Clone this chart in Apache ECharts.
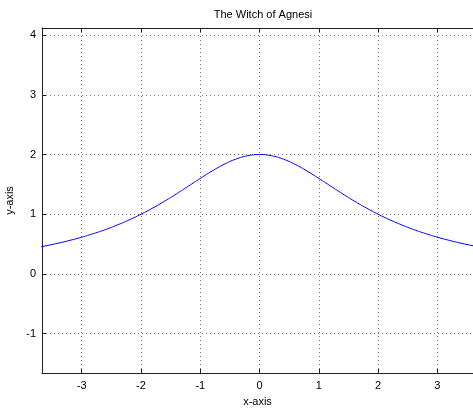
<!DOCTYPE html>
<html><head><meta charset="utf-8">
<script src="https://cdn.jsdelivr.net/npm/echarts@6/dist/echarts.min.js"></script>
<style>html,body{margin:0;padding:0;background:#fff}#c{width:473px;height:408px}</style>
</head><body><div id="c"></div>
<script>
var titleText = "The Witch of Agnesi";
var xName = "x-axis";
var yName = "y-axis";
var xTicks = [-3,-2,-1,0,1,2,3];
var yTicks = [-1,0,1,2,3,4];
var xs = [-3.8,-3.6,-3.4,-3.2,-3.0,-2.8,-2.6,-2.4,-2.2,-2.0,-1.8,-1.6,-1.4,-1.2,-1.0,-0.8,-0.6,-0.4,-0.2,0,0.2,0.4,0.6,0.8,1.0,1.2,1.4,1.6,1.8,2.0,2.2,2.4,2.6,2.8,3.0,3.2,3.4,3.6,3.8];
var ys = [0.434,0.472,0.514,0.562,0.615,0.676,0.743,0.820,0.905,1.000,1.105,1.220,1.342,1.471,1.600,1.724,1.835,1.923,1.980,2.000,1.980,1.923,1.835,1.724,1.600,1.471,1.342,1.220,1.105,1.000,0.905,0.820,0.743,0.676,0.615,0.562,0.514,0.472,0.434];
var xMin = -3.67, xMax = 3.6, yMin = -1.66, yMax = 4.12;

var pts = xs.map(function(x,i){return [x, ys[i]];});
var font = "Liberation Sans, Arial, sans-serif";
var axisCol = '#222';
var gridLine = {show:true, lineStyle:{color:'#777', type:[1,3], width:1}};
var chart = echarts.init(document.getElementById('c'));
chart.setOption({
  animation:false,
  backgroundColor:'#fff',
  title:{text:titleText, left:258, textAlign:'center', top:4, textStyle:{fontFamily:font, fontSize:11, fontWeight:'normal', color:'#000'}},
  grid:{left:42, top:28, right:0, bottom:35, containLabel:false, outerBoundsMode:'none'},
  xAxis:[{type:'value', min:xMin, max:xMax, position:'bottom',
    name:xName, nameLocation:'middle', nameGap:23, nameTextStyle:{fontFamily:font, fontSize:11, color:'#000'},
    axisLine:{show:true, onZero:false, lineStyle:{color:axisCol}},
    axisTick:{show:true, inside:true, length:4, customValues:xTicks, lineStyle:{color:axisCol}},
    axisLabel:{customValues:xTicks, fontFamily:font, fontSize:11, color:'#000', margin:7},
    splitLine:gridLine},
   {type:'value', min:xMin, max:xMax, position:'top',
    axisLine:{show:true, onZero:false, lineStyle:{color:axisCol}},
    axisTick:{show:true, inside:true, length:4, customValues:xTicks, lineStyle:{color:axisCol}},
    axisLabel:{show:false}, splitLine:{show:false}}],
  yAxis:[{type:'value', min:yMin, max:yMax,
    name:yName, nameLocation:'middle', nameGap:25, nameTextStyle:{fontFamily:font, fontSize:11, color:'#000'},
    axisLine:{show:true, onZero:false, lineStyle:{color:axisCol}},
    axisTick:{show:true, inside:true, length:4, customValues:yTicks, lineStyle:{color:axisCol}},
    axisLabel:{customValues:yTicks, fontFamily:font, fontSize:11, color:'#000', margin:6},
    splitLine:gridLine}],
  series:[{type:'line', data:pts, smooth:true, showSymbol:false, clip:true,
    lineStyle:{color:'#0000ff', width:1}, itemStyle:{color:'#0000ff'}}]
});
</script></body></html>
